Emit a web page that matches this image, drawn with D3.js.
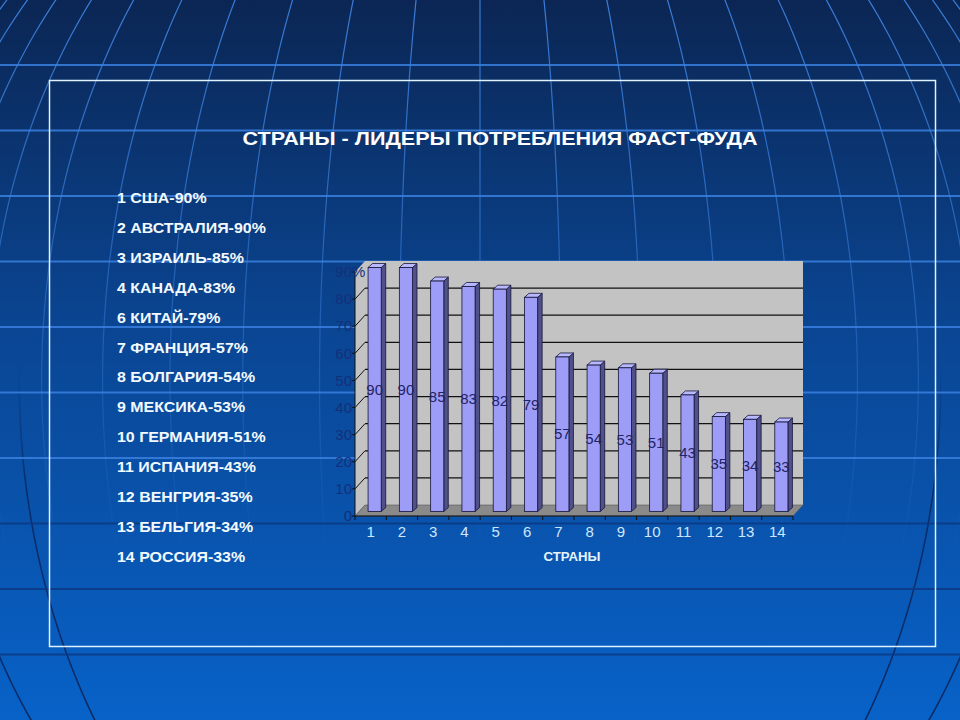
<!DOCTYPE html>
<html>
<head>
<meta charset="utf-8">
<script src="https://cdn.jsdelivr.net/npm/d3@7"></script>
<style>
  html, body { margin: 0; padding: 0; background: #0a3f88; }
  svg { display: block; font-family: "Liberation Sans", Arial, sans-serif; }
</style>
</head>
<body>
<svg id="chart" width="960" height="720"></svg>
<script>
// --- data ---
const title = "СТРАНЫ - ЛИДЕРЫ ПОТРЕБЛЕНИЯ ФАСТ-ФУДА";
const xTitle = "СТРАНЫ";
const categories = ["1","2","3","4","5","6","7","8","9","10","11","12","13","14"];
const shares = [90, 90, 85, 83, 82, 79, 57, 54, 53, 51, 43, 35, 34, 33];
const yTicks = [0, 10, 20, 30, 40, 50, 60, 70, 80, 90];

const listRank = [1, 2, 3, 4, 6, 7, 8, 9, 10, 11, 12, 13, 14];
const listCountry = ["США", "АВСТРАЛИЯ", "ИЗРАИЛЬ", "КАНАДА", "КИТАЙ", "ФРАНЦИЯ", "БОЛГАРИЯ",
                     "МЕКСИКА", "ГЕРМАНИЯ", "ИСПАНИЯ", "ВЕНГРИЯ", "БЕЛЬГИЯ", "РОССИЯ"];
const listPct = [90, 90, 85, 83, 79, 57, 54, 53, 51, 43, 35, 34, 33];

const svg = d3.select("#chart");
const W = 960, H = 720;

// --- background: gradient, globe meridians, horizontal bands ---
const defs = svg.append("defs");
const bg = defs.append("linearGradient").attr("id", "bg").attr("x1", 0).attr("y1", 0).attr("x2", 0).attr("y2", 1);
bg.append("stop").attr("offset", "0%").attr("stop-color", "#0b2654");
bg.append("stop").attr("offset", "45%").attr("stop-color", "#0a4592");
bg.append("stop").attr("offset", "100%").attr("stop-color", "#0862c8");

const lightFade = defs.append("linearGradient").attr("id", "lightFade")
  .attr("gradientUnits", "userSpaceOnUse").attr("x1", 0).attr("y1", 0).attr("x2", 0).attr("y2", H);
lightFade.append("stop").attr("offset", "0%").attr("stop-color", "#3f86e6").attr("stop-opacity", 0.9);
lightFade.append("stop").attr("offset", "55%").attr("stop-color", "#3f86e6").attr("stop-opacity", 0.3);
lightFade.append("stop").attr("offset", "78%").attr("stop-color", "#3f86e6").attr("stop-opacity", 0.0);

const darkFade = defs.append("linearGradient").attr("id", "darkFade")
  .attr("gradientUnits", "userSpaceOnUse").attr("x1", 0).attr("y1", 0).attr("x2", 0).attr("y2", H);
darkFade.append("stop").attr("offset", "50%").attr("stop-color", "#0a2a66").attr("stop-opacity", 0);
darkFade.append("stop").attr("offset", "68%").attr("stop-color", "#0a2a66").attr("stop-opacity", 0.9);
darkFade.append("stop").attr("offset", "100%").attr("stop-color", "#0a2a66").attr("stop-opacity", 1);

svg.append("rect").attr("width", W).attr("height", H).attr("fill", "url(#bg)");

const globe = d3.geoOrthographic().scale(620).translate([480, 380]).rotate([0, 0, 0]);
const globePath = d3.geoPath(globe);
const meridian = lon => ({ type: "LineString", coordinates: d3.range(-90, 90.1, 1).map(lat => [lon, lat]) });

svg.append("g").selectAll("path").data(d3.range(-90, 90.1, 7.5)).join("path")
  .attr("d", d => globePath(meridian(d)))
  .attr("fill", "none").attr("stroke", "url(#lightFade)").attr("stroke-width", 1.2);

svg.append("g").selectAll("path").data([-60, -48, 48, 60]).join("path")
  .attr("d", d => globePath(meridian(d)))
  .attr("fill", "none").attr("stroke", "url(#darkFade)").attr("stroke-width", 1.6);

svg.append("g").selectAll("line").data(d3.range(65, H, 65.5)).join("line")
  .attr("x1", 0).attr("x2", W).attr("y1", d => d).attr("y2", d => d)
  .attr("stroke", d => d < 500 ? "#3a80e0" : "#0b3a85")
  .attr("stroke-opacity", d => d < 500 ? 0.85 : 0.9)
  .attr("stroke-width", 2.2);

// slide frame
svg.append("rect").attr("x", 49.5).attr("y", 80.5).attr("width", 886).attr("height", 566)
  .attr("fill", "none").attr("stroke", "#dff3ff").attr("stroke-width", 1.5);

// --- title and list ---
svg.append("text").attr("transform", "translate(500,145) scale(1.2,1)")
  .attr("text-anchor", "middle").attr("font-size", 18).attr("font-weight", "bold")
  .attr("fill", "#ffffff").text(title);

svg.append("g").selectAll("text").data(listRank).join("text")
  .attr("transform", (d, i) => `translate(117,${203 + i * 29.9}) scale(1.1,1)`)
  .attr("font-size", 14.5).attr("font-weight", "bold").attr("fill", "#f2faff")
  .text((d, i) => `${d} ${listCountry[i]}-${listPct[i]}%`);

// --- 3D column chart ---
const x0 = 355, x1 = 793;             // front plane
const back = { dx: 10, dy: -11 };      // wall depth
const mid = { dx: 4, dy: -4.5 };       // bar position in depth
const bar3d = { dx: 4.5, dy: -4 };     // bar thickness

const x = d3.scaleBand().domain(categories).range([x0, x1]).paddingInner(0.58).paddingOuter(0.29);
const y = d3.scaleLinear().domain([0, 90]).range([516, 272]);
const step = x.step();

const chart = svg.append("g");

// side wall
chart.append("path")
  .attr("d", `M${x0},${y(0)}L${x0},${y(90)}L${x0 + back.dx},${y(90) + back.dy}L${x0 + back.dx},${y(0) + back.dy}Z`)
  .attr("fill", "#c3c3c3");
// back wall
chart.append("rect")
  .attr("x", x0 + back.dx).attr("y", y(90) + back.dy)
  .attr("width", x1 - x0).attr("height", y(0) - y(90))
  .attr("fill", "#c3c3c3");
// gridlines on walls
const gridVals = yTicks.filter(v => v > 0 && v < 90);
chart.append("g").selectAll("line").data(gridVals).join("line")
  .attr("x1", x0 + back.dx).attr("x2", x1 + back.dx)
  .attr("y1", d => y(d) + back.dy).attr("y2", d => y(d) + back.dy)
  .attr("stroke", "#111").attr("stroke-width", 1.2);
chart.append("g").selectAll("line").data(gridVals).join("line")
  .attr("x1", x0).attr("x2", x0 + back.dx)
  .attr("y1", d => y(d)).attr("y2", d => y(d) + back.dy)
  .attr("stroke", "#111").attr("stroke-width", 1);
// floor
chart.append("path")
  .attr("d", `M${x0},${y(0)}L${x1},${y(0)}L${x1 + back.dx},${y(0) + back.dy}L${x0 + back.dx},${y(0) + back.dy}Z`)
  .attr("fill", "#8a8a8a").attr("stroke", "#555").attr("stroke-width", 0.6);

// bars
const bw = x.bandwidth();
const bars = chart.append("g").selectAll("g").data(shares).join("g");
const bx = (d, i) => x(categories[i]) + mid.dx;
const by = d => y(d) + mid.dy;
const bBase = y(0) + mid.dy;

bars.append("path")
  .attr("d", (d, i) => {
    const l = bx(d, i) + bw;
    return `M${l},${by(d)}L${l + bar3d.dx},${by(d) + bar3d.dy}L${l + bar3d.dx},${bBase + bar3d.dy}L${l},${bBase}Z`;
  })
  .attr("fill", "#50508a").attr("stroke", "#15153a").attr("stroke-width", 0.8);
bars.append("path")
  .attr("d", (d, i) => {
    const l = bx(d, i), t = by(d);
    return `M${l},${t}L${l + bar3d.dx},${t + bar3d.dy}L${l + bw + bar3d.dx},${t + bar3d.dy}L${l + bw},${t}Z`;
  })
  .attr("fill", "#b8b8ff").attr("stroke", "#15153a").attr("stroke-width", 0.8);
bars.append("rect")
  .attr("x", bx).attr("y", by)
  .attr("width", bw).attr("height", d => bBase - by(d))
  .attr("fill", "#9d9df7").attr("stroke", "#15153a").attr("stroke-width", 0.8);

// data labels
chart.append("g").selectAll("text").data(shares).join("text")
  .attr("x", (d, i) => bx(d, i) + bw / 2)
  .attr("y", d => (by(d) + bBase) / 2)
  .attr("dy", "0.35em").attr("text-anchor", "middle")
  .attr("font-size", 15).attr("fill", "#222466")
  .text(d => d);

// value axis
chart.append("line").attr("x1", x0).attr("x2", x0).attr("y1", y(0)).attr("y2", y(90))
  .attr("stroke", "#111").attr("stroke-width", 1);
const yAxisG = chart.append("g").selectAll("g").data(yTicks).join("g");
yAxisG.append("line").attr("x1", x0 - 3).attr("x2", x0).attr("y1", d => y(d)).attr("y2", d => y(d))
  .attr("stroke", "#111").attr("stroke-width", 1);
yAxisG.append("text").attr("x", x0 - 3).attr("y", d => y(d)).attr("dy", "0.35em")
  .attr("text-anchor", "end").attr("font-size", 15).attr("fill", "#14307a")
  .text(d => d);
chart.append("text").attr("x", x0 - 3).attr("y", y(90)).attr("dy", "0.35em")
  .attr("font-size", 15).attr("fill", "#14307a").text("%");

// category axis
chart.append("line").attr("x1", x0).attr("x2", x1).attr("y1", y(0)).attr("y2", y(0))
  .attr("stroke", "#111").attr("stroke-width", 1);
chart.append("g").selectAll("line").data(d3.range(categories.length + 1)).join("line")
  .attr("x1", k => x0 + k * step).attr("x2", k => x0 + k * step)
  .attr("y1", y(0)).attr("y2", y(0) + 4)
  .attr("stroke", "#111").attr("stroke-width", 1);
chart.append("g").selectAll("text").data(categories).join("text")
  .attr("x", d => x(d) + bw / 2).attr("y", 537)
  .attr("text-anchor", "middle").attr("font-size", 15).attr("fill", "#cfe6ff")
  .text(d => d);

svg.append("text").attr("transform", "translate(572,561) scale(1.1,1)")
  .attr("text-anchor", "middle").attr("font-size", 12).attr("font-weight", "bold")
  .attr("fill", "#e6f4ff").text(xTitle);
</script>
</body>
</html>
